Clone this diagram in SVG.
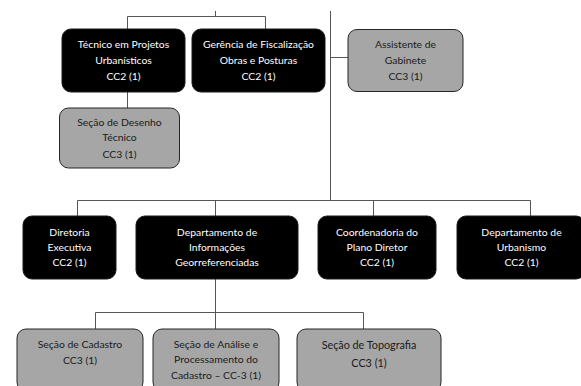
<svg xmlns="http://www.w3.org/2000/svg" width="581" height="386" viewBox="0 0 581 386">
<style>
.b rect{fill:#000;stroke:#1a1a1a;stroke-width:1}
.g rect{fill:#a6a6a6;stroke:#262626;stroke-width:1}
text{font-family:"Lato","Liberation Sans",sans-serif;font-size:10.4px;text-anchor:middle}
.b text{fill:#fff}
.g text{fill:#1a1a1a}
#connectors path{fill:none;stroke:#555;stroke-width:1}
</style>
<rect width="581" height="386" fill="#fff"/>
<g id="connectors">
<path d="M330.5 11V200.5"/>
<path d="M215.5 11V16.5M127.5 29V16.5H265.5V29"/>
<path d="M330.5 57.5H348"/>
<path d="M127.5 92V108"/>
<path d="M77.5 216V200.5H530.5V216M215.5 200.5V216M373.5 200.5V216"/>
<path d="M215.5 279V329M95.5 329V312.5H363.5V329"/>
</g>
<g id="tecnico" class="b"><rect x="62" y="29" width="123" height="63" rx="9"/>
<text x="123.5" y="47.5">Técnico em Projetos</text><text x="123.5" y="63.5">Urbanísticos</text><text x="123.5" y="79.5">CC2 (1)</text></g>
<g id="gerencia" class="b"><rect x="192" y="29" width="133" height="63" rx="9"/>
<text x="258.5" y="47.5">Gerência de Fiscalização</text><text x="258.5" y="63.5">Obras e Posturas</text><text x="258.5" y="79.5">CC2 (1)</text></g>
<g id="assistente" class="g"><rect x="348" y="29.5" width="115" height="62" rx="9"/>
<text x="405.5" y="48">Assistente de</text><text x="405.5" y="63.5">Gabinete</text><text x="405.5" y="79.5">CC3 (1)</text></g>
<g id="desenho" class="g"><rect x="59.5" y="108" width="120" height="60" rx="9"/>
<text x="119.5" y="126">Seção de Desenho</text><text x="119.5" y="141">Técnico</text><text x="119.5" y="157.5">CC3 (1)</text></g>
<g id="diretoria" class="b"><rect x="23" y="216" width="93" height="63" rx="9"/>
<text x="69.5" y="235.5">Diretoria</text><text x="69.5" y="250.5">Executiva</text><text x="69.5" y="265.5">CC2 (1)</text></g>
<g id="geo" class="b"><rect x="136" y="216" width="162" height="63" rx="9"/>
<text x="217" y="235.5">Departamento de</text><text x="217" y="250.5">Informações</text><text x="217" y="265.5">Georreferenciadas</text></g>
<g id="coordenadoria" class="b"><rect x="318" y="216" width="118" height="63" rx="9"/>
<text x="377" y="235.5">Coordenadoria do</text><text x="377" y="250.5">Plano Diretor</text><text x="377" y="265.5">CC2 (1)</text></g>
<g id="urbanismo" class="b"><rect x="457" y="216" width="128" height="63" rx="9"/>
<text x="521.5" y="235.5">Departamento de</text><text x="521.5" y="250.5">Urbanismo</text><text x="521.5" y="265.5">CC2 (1)</text></g>
<g id="cadastro" class="g"><rect x="17" y="329" width="126" height="62" rx="9"/>
<text x="80" y="347.5">Seção de Cadastro</text><text x="80" y="364">CC3 (1)</text></g>
<g id="analise" class="g"><rect x="153" y="329" width="126" height="62" rx="9"/>
<text x="216" y="347.5">Seção de Análise e</text><text x="216" y="362.5">Processamento do</text><text x="216" y="378.5">Cadastro – CC-3 (1)</text></g>
<g id="topografia" class="g"><rect x="297" y="329" width="144" height="62" rx="9"/>
<text x="369" y="349" style="font-size:10.8px">Seção de Topografia</text><text x="369" y="367" style="font-size:10.8px">CC3 (1)</text></g>
</svg>
